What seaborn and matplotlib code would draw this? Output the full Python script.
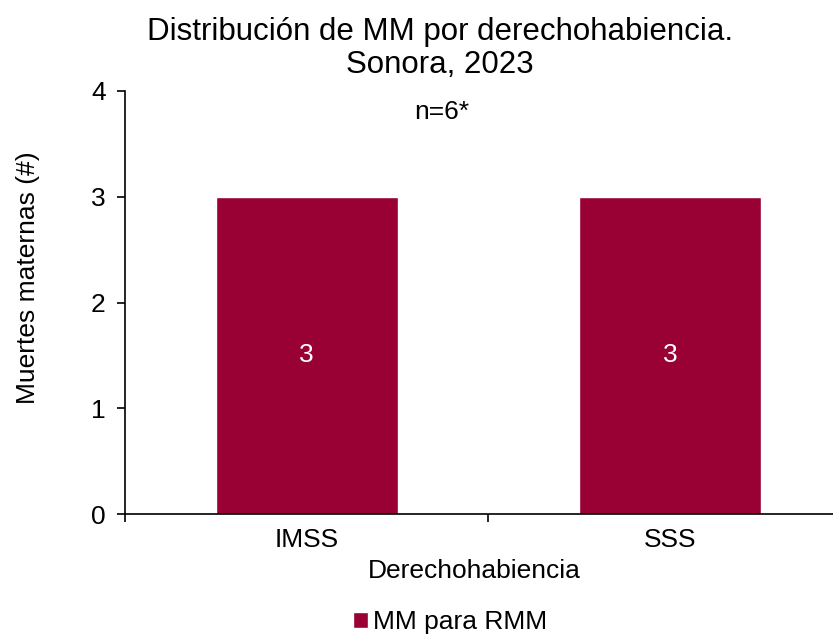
import matplotlib
matplotlib.use("Agg")
import matplotlib.pyplot as plt
import seaborn as sns
import pandas as pd
from matplotlib.patches import Patch

# Data
categories = ["IMSS", "SSS"]
deaths = [3, 3]
series_name = "MM para RMM"

df = pd.DataFrame({"Derechohabiencia": categories, "Muertes": deaths})

sns.set_style("white")
plt.rcParams["font.family"] = ["Liberation Sans", "DejaVu Sans"]
plt.rcParams["text.color"] = "black"
plt.rcParams["xtick.color"] = "black"
plt.rcParams["ytick.color"] = "black"
plt.rcParams["axes.labelcolor"] = "black"

bar_color = "#990033"
fs = 19

fig = plt.figure(figsize=(8.33, 6.34), dpi=100)
ax = fig.add_axes([125 / 833, 120 / 634, 727 / 833, 423 / 634])

sns.barplot(data=df, x="Derechohabiencia", y="Muertes", color=bar_color,
            width=0.5, saturation=1, ax=ax)

ax.set_xlim(-0.5, 1.5)
ax.set_ylim(0, 4)
ax.set_yticks([0, 1, 2, 3, 4])

# category boundaries as tick marks, labels centred on bars
ax.set_xticks([-0.5, 0.5, 1.5])
ax.set_xticklabels([])
ax.set_xticks([0, 1], minor=True)
ax.set_xticklabels(categories, minor=True)
ax.tick_params(axis="x", which="minor", length=0, pad=10, labelsize=fs)
ax.tick_params(axis="x", which="major", length=6, width=1.2, direction="out", bottom=True)
ax.tick_params(axis="y", length=6, width=1.2, direction="out", left=True, labelsize=fs, pad=8)

for side in ["top", "right"]:
    ax.spines[side].set_visible(False)
for side in ["left", "bottom"]:
    ax.spines[side].set_color("black")
    ax.spines[side].set_linewidth(1.2)

for c in ax.containers:
    ax.bar_label(c, labels=[str(v) for v in deaths], label_type="center",
                 color="white", fontsize=fs)

ax.set_xlabel("")
ax.set_ylabel("")

fig.text(440 / 833, 1 - 32 / 634, "Distribución de MM por derechohabiencia.",
         ha="center", va="center", fontsize=22.5)
fig.text(440 / 833, 1 - 65 / 634, "Sonora, 2023", ha="center", va="center", fontsize=22.5)
fig.text(442 / 833, 1 - 112 / 634, "n=6*", ha="center", va="center", fontsize=fs)
fig.text(474 / 833, 1 - 571 / 634, "Derechohabiencia", ha="center", va="center", fontsize=fs)
fig.text(28 / 833, 1 - 278 / 634, "Muertes maternas (#)", ha="center", va="center",
         rotation=90, fontsize=fs)

handles = [Patch(facecolor=bar_color, label=series_name)]
fig.legend(handles=handles, loc="center", bbox_to_anchor=(450 / 833, 1 - 622 / 634),
           frameon=False, fontsize=fs, handlelength=0.55, handleheight=0.55,
           handletextpad=0.2)

fig.savefig("out.png", dpi=100)
